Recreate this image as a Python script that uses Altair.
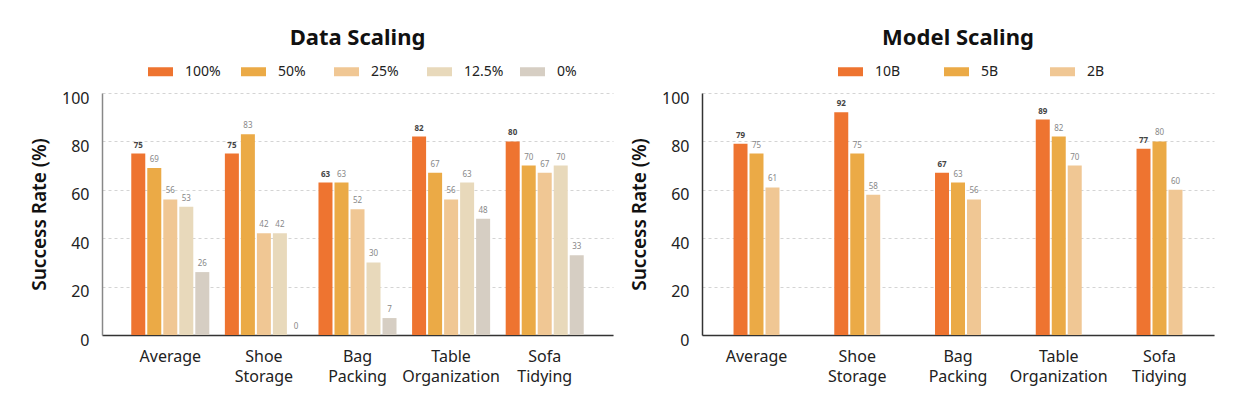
import altair as alt
import pandas as pd

categories = ["Average", "Shoe Storage", "Bag Packing", "Table Organization", "Sofa Tidying"]

data_levels = ["100%", "50%", "25%", "12.5%", "0%"]
data_100 = [75, 75, 63, 82, 80]
data_50 = [69, 83, 63, 67, 70]
data_25 = [56, 42, 52, 56, 67]
data_12_5 = [53, 42, 30, 63, 70]
data_0 = [26, 0, 7, 48, 33]

model_levels = ["10B", "5B", "2B"]
model_10b = [79, 92, 67, 89, 77]
model_5b = [75, 75, 63, 82, 80]
model_2b = [61, 58, 56, 70, 60]

data_colors = ["#EE7430", "#EBAA46", "#F0C794", "#E8D9BB", "#D6CEC3"]
model_colors = ["#EE7430", "#EBAA46", "#F0C794"]

FONT = "Noto Sans"
RECT = "M-1,-0.36L1,-0.36L1,0.36L-1,0.36Z"


def make_df(levels, series):
    rows = []
    for lvl, vals in zip(levels, series):
        for c, v in zip(categories, vals):
            rows.append({"task": c, "level": lvl, "value": v})
    return pd.DataFrame(rows)


def panel(df, levels, colors, title, p_inner, p_outer, legend_x, col_pad, y_domain_color, width):
    base = alt.Chart(df)
    x = alt.X(
        "task:N", sort=categories, title=None,
        scale=alt.Scale(paddingInner=p_inner, paddingOuter=p_outer),
        axis=alt.Axis(labelAngle=0, ticks=False, domainColor="#333333", domainWidth=1.5,
                      labelFontSize=16, labelColor="#222222", labelPadding=13,
                      labelExpr="split(datum.label, ' ')", labelLineHeight=20, grid=False),
    )
    xo = alt.XOffset("level:N", sort=levels,
                     scale=alt.Scale(domain=levels, paddingInner=0.125, paddingOuter=0.0625))
    y = alt.Y(
        "value:Q", scale=alt.Scale(domain=[0, 100]), title="Success Rate (%)",
        axis=alt.Axis(values=[0, 20, 40, 60, 80, 100], ticks=False, domainColor=y_domain_color,
                      domainWidth=1.5, gridDash=[3, 3], gridColor="#d4d4d4", gridWidth=1,
                      labelFontSize=16, labelColor="#222222", labelPadding=13, labelOffset=5,
                      titleFontSize=19, titleFontWeight=600, titlePadding=12, titleColor="#111111"),
    )
    bars = base.mark_bar().encode(
        x=x, xOffset=xo, y=y,
        color=alt.Color(
            "level:N", sort=levels,
            scale=alt.Scale(domain=levels, range=colors),
            legend=alt.Legend(title=None, orient="none", legendX=legend_x, legendY=-34,
                              direction="horizontal", columns=len(levels), gridAlign="all",
                              columnPadding=col_pad, symbolType=RECT, symbolSize=625,
                              symbolStrokeWidth=0, symbolOpacity=1, labelFontSize=14,
                              labelOffset=12, labelColor="#222222"),
        ),
    )
    t_main = base.transform_filter(alt.datum.level == levels[0]).mark_text(
        fontSize=8, fontWeight="bold", color="#444444", dy=-4, baseline="bottom"
    ).encode(x=x, xOffset=xo, y=y, text="value:Q")
    t_rest = base.transform_filter(alt.datum.level != levels[0]).mark_text(
        fontSize=8, color="#888888", dy=-4, baseline="bottom"
    ).encode(x=x, xOffset=xo, y=y, text="value:Q")
    return alt.layer(bars, t_main, t_rest).properties(
        width=width, height=242,
        title=alt.Title(title, fontSize=22, fontWeight="bold", color="#111111", offset=9),
    )


left = panel(make_df(data_levels, [data_100, data_50, data_25, data_12_5, data_0]),
             data_levels, data_colors, "Data Scaling", 0.145, 0.302, 46, 16, "#888888", 511)
right = panel(make_df(model_levels, [model_10b, model_5b, model_2b]),
              model_levels, model_colors, "Model Scaling", 0.524, 0.303, 136, 43, "#333333", 512)

chart = alt.hconcat(left, right, spacing=17).resolve_scale(
    color="independent", x="independent", xOffset="independent", y="independent"
).configure(font=FONT).configure_view(stroke=None).properties(
    padding={"left": 22, "top": 19, "right": 5, "bottom": 5}
)

chart.save("out.html", embed_options={"renderer": "svg", "actions": False})
